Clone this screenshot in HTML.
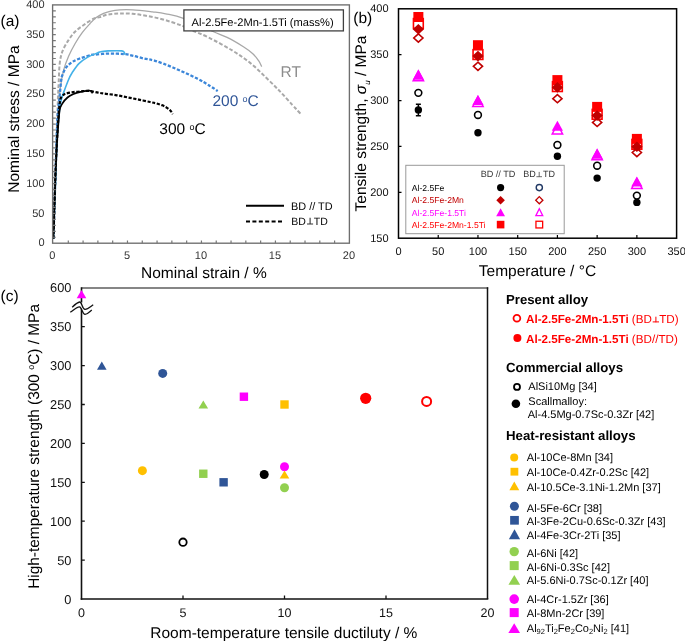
<!DOCTYPE html><html><head><meta charset="utf-8"><style>html,body{margin:0;padding:0;background:#fff;overflow:hidden}svg{display:block;will-change:transform}text{font-family:"Liberation Sans", sans-serif;text-rendering:geometricPrecision}</style></head><body>
<svg width="685" height="641" viewBox="0 0 685 641">
<rect width="685" height="641" fill="#fff"/>
<g fill="none" stroke-linecap="butt">
<path d="M53.4,238.6 C53.6,233.8 54.0,220.6 54.4,210.0 C54.8,199.4 55.2,186.7 55.6,175.0 C56.0,163.3 56.4,150.5 56.8,140.0 C57.2,129.5 57.6,120.7 58.2,112.0 C58.8,103.3 59.4,95.0 60.3,88.0 C61.2,81.0 62.3,75.2 63.7,69.9 C65.1,64.6 66.8,60.5 68.7,56.1 C70.6,51.7 72.7,47.7 75.0,43.7 C77.3,39.8 79.9,35.7 82.4,32.4 C84.9,29.1 87.6,26.2 89.9,23.7 C92.2,21.2 93.9,19.2 96.2,17.5 C98.5,15.8 101.3,14.3 103.6,13.3 C105.9,12.3 107.3,11.9 110.0,11.3 C112.7,10.7 115.9,10.1 119.7,9.9 C123.5,9.7 127.4,9.6 132.9,9.9 C138.4,10.2 147.1,11.2 152.6,11.8 C158.1,12.5 160.6,12.7 165.7,13.8 C170.8,14.9 175.5,15.4 183.4,18.4 C191.3,21.3 205.7,28.3 213.0,31.5 C220.3,34.7 222.0,34.9 227.1,37.4 C232.2,39.9 239.1,44.0 243.4,46.7 C247.7,49.4 250.3,51.4 252.8,53.7 C255.3,56.0 257.1,58.6 258.6,60.7 C260.1,62.9 261.2,65.6 261.7,66.6" stroke="#a8a8a8" stroke-width="1.3"/>
<path d="M53.4,238.6 C53.6,233.0 54.2,216.4 54.6,205.0 C55.0,193.6 55.4,182.5 55.8,170.0 C56.2,157.5 56.6,141.7 57.0,130.0 C57.4,118.3 57.6,108.0 57.9,100.0 C58.2,92.0 58.4,88.4 58.7,82.3 C59.0,76.2 59.1,68.8 59.7,63.6 C60.3,58.4 61.0,55.2 62.5,51.2 C64.0,47.2 66.6,43.1 68.7,39.9 C70.8,36.7 72.5,34.3 75.0,31.8 C77.5,29.3 80.6,27.2 83.7,25.0 C86.8,22.8 91.0,20.0 93.7,18.7 C96.4,17.4 97.6,17.8 100.0,17.1 C102.4,16.4 104.6,15.1 107.9,14.5 C111.2,13.9 115.5,13.6 119.7,13.5 C123.9,13.4 128.5,13.4 132.9,13.8 C137.3,14.2 141.6,15.0 146.0,15.8 C150.4,16.6 154.7,17.3 159.1,18.4 C163.5,19.5 168.2,21.0 172.3,22.3 C176.4,23.6 180.1,25.0 183.4,26.3 C186.7,27.6 187.8,28.5 192.0,30.4 C196.2,32.2 201.8,34.1 208.4,37.4 C215.0,40.7 224.8,45.9 231.8,50.2 C238.8,54.5 244.6,58.4 250.4,63.1 C256.2,67.8 261.7,73.4 266.8,78.3 C271.9,83.2 276.5,87.8 280.8,92.3 C285.1,96.8 289.6,102.0 292.5,105.1 C295.4,108.2 296.5,109.3 298.0,111.0 C299.5,112.7 301.0,114.3 301.6,115.0" stroke="#a9a9a9" stroke-width="2" stroke-dasharray="3.8,2"/>
<path d="M53.4,238.6 C53.6,233.0 54.1,216.4 54.5,205.0 C54.9,193.6 55.2,181.7 55.6,170.0 C56.0,158.3 56.4,143.8 56.7,135.0 C57.0,126.2 57.2,122.4 57.5,117.4 C57.8,112.4 58.3,109.2 58.7,105.0 C59.1,100.8 59.6,96.7 60.0,92.5 C60.4,88.3 60.8,83.0 61.2,80.0 C61.6,77.0 61.7,76.9 62.5,74.8 C63.3,72.7 64.5,69.6 66.2,67.4 C67.9,65.2 70.0,63.4 72.5,61.8 C75.0,60.2 78.1,59.1 81.2,58.0 C84.3,56.9 88.9,55.5 91.2,54.9 C93.5,54.3 92.5,54.8 95.0,54.6 C97.5,54.4 102.2,53.9 105.9,53.7 C109.6,53.6 113.6,53.6 116.9,53.7 C120.2,53.8 122.9,53.9 125.6,54.2 C128.3,54.6 130.2,55.1 133.3,55.8 C136.4,56.5 140.6,57.8 144.2,58.6 C147.8,59.4 150.1,59.3 155.0,60.8 C159.9,62.3 166.5,64.8 173.4,67.7 C180.3,70.6 190.5,75.2 196.7,78.3 C202.9,81.4 207.2,84.3 210.7,86.4 C214.2,88.5 216.5,90.3 217.7,91.1" stroke="#3b86d9" stroke-width="2.3" stroke-dasharray="3.2,1.7"/>
<path d="M53.4,238.6 C53.6,233.0 54.2,216.4 54.6,205.0 C55.0,193.6 55.5,181.7 55.9,170.0 C56.3,158.3 56.8,143.7 57.3,135.0 C57.8,126.3 58.2,122.8 58.7,118.0 C59.2,113.2 59.5,109.4 60.0,106.3 C60.5,103.2 60.7,101.8 61.4,99.3 C62.1,96.8 62.8,94.6 64.0,91.4 C65.2,88.2 67.1,83.1 68.4,80.0 C69.7,76.9 70.2,75.7 72.0,73.0 C73.8,70.3 76.3,66.2 78.9,63.6 C81.5,61.0 84.3,59.2 87.4,57.4 C90.5,55.6 95.2,53.9 97.4,53.0 C99.6,52.1 98.7,52.1 100.5,51.8 C102.3,51.4 105.4,51.1 108.1,50.9 C110.8,50.7 114.6,50.7 116.9,50.7 C119.2,50.7 120.6,50.7 121.8,50.9 C123.0,51.1 123.5,51.4 124.0,52.0 C124.5,52.6 124.8,54.3 125.0,54.8" stroke="#43b1e8" stroke-width="1.6"/>
<path d="M53.4,238.6 C53.6,233.0 54.1,215.6 54.4,205.0 C54.7,194.4 55.1,182.5 55.4,175.0 C55.7,167.5 55.7,165.8 56.0,160.0 C56.3,154.2 56.6,146.7 57.0,140.0 C57.4,133.3 57.8,125.5 58.2,120.0 C58.6,114.5 58.9,110.5 59.3,107.0 C59.7,103.5 60.0,100.9 60.5,99.0 C61.0,97.1 61.8,96.6 62.5,95.8 C63.2,95.0 63.3,94.6 64.9,94.0 C66.5,93.4 69.3,92.7 71.9,92.3 C74.5,91.9 77.8,91.6 80.6,91.4 C83.4,91.2 85.6,90.7 88.5,90.9 C91.4,91.1 95.3,92.2 98.2,92.7 C101.1,93.2 102.8,93.4 105.9,93.8 C109.0,94.2 113.2,94.7 116.9,95.3 C120.6,95.9 124.2,96.7 127.8,97.4 C131.4,98.1 135.0,98.8 138.7,99.6 C142.4,100.4 147.2,101.4 150.0,102.0 C152.8,102.6 153.9,102.8 155.8,103.3 C157.8,103.8 159.9,104.4 161.7,105.1 C163.4,105.8 164.9,106.5 166.3,107.4 C167.7,108.3 169.2,109.4 170.3,110.5 C171.4,111.6 172.4,113.6 172.8,114.2" stroke="#000" stroke-width="2.2" stroke-dasharray="3.2,1.6"/>
<path d="M53.4,238.6 C53.6,233.0 54.1,215.6 54.5,205.0 C54.9,194.4 55.1,184.2 55.5,175.0 C55.9,165.8 56.2,157.5 56.6,150.0 C57.0,142.5 57.4,136.6 57.9,130.0 C58.4,123.4 58.9,115.0 59.6,110.6 C60.3,106.2 61.0,105.8 62.3,103.6 C63.6,101.4 65.6,99.1 67.5,97.5 C69.4,95.9 71.4,95.0 73.6,94.0 C75.8,93.0 78.1,92.4 80.6,91.8 C83.1,91.2 86.7,90.7 88.5,90.6 C90.3,90.5 90.5,90.5 91.2,91.0 C91.9,91.5 92.3,92.9 92.5,93.3" stroke="#000" stroke-width="1.7"/>
</g>
<rect x="52.6" y="4.9" width="296.8" height="238.3" fill="none" stroke="#6e6e6e" stroke-width="1.35"/>
<path d="M52.6,237.24h3.2M52.6,231.28h3.2M52.6,225.33h3.2M52.6,219.37h3.2M52.6,213.41h3.2M52.6,207.45h3.2M52.6,201.50h3.2M52.6,195.54h3.2M52.6,189.58h3.2M52.6,183.62h3.2M52.6,177.67h3.2M52.6,171.71h3.2M52.6,165.75h3.2M52.6,159.79h3.2M52.6,153.84h3.2M52.6,147.88h3.2M52.6,141.92h3.2M52.6,135.96h3.2M52.6,130.01h3.2M52.6,124.05h3.2M52.6,118.09h3.2M52.6,112.14h3.2M52.6,106.18h3.2M52.6,100.22h3.2M52.6,94.26h3.2M52.6,88.31h3.2M52.6,82.35h3.2M52.6,76.39h3.2M52.6,70.43h3.2M52.6,64.47h3.2M52.6,58.52h3.2M52.6,52.56h3.2M52.6,46.60h3.2M52.6,40.64h3.2M52.6,34.69h3.2M52.6,28.73h3.2M52.6,22.77h3.2M52.6,16.81h3.2M52.6,10.86h3.2M68.30,243.2v-2.8M83.09,243.2v-2.8M97.88,243.2v-2.8M112.68,243.2v-2.8M127.47,243.2v-2.8M142.27,243.2v-2.8M157.06,243.2v-2.8M171.86,243.2v-2.8M186.66,243.2v-2.8M201.45,243.2v-2.8M216.24,243.2v-2.8M231.04,243.2v-2.8M245.83,243.2v-2.8M260.63,243.2v-2.8M275.43,243.2v-2.8M290.22,243.2v-2.8M305.01,243.2v-2.8M319.81,243.2v-2.8M334.60,243.2v-2.8" stroke="#777" stroke-width="1.2" fill="none"/>
<text x="44.5" y="246.3" font-size="11" fill="#333" text-anchor="end">0</text>
<text x="44.5" y="216.5" font-size="11" fill="#333" text-anchor="end">50</text>
<text x="44.5" y="186.7" font-size="11" fill="#333" text-anchor="end">100</text>
<text x="44.5" y="156.9" font-size="11" fill="#333" text-anchor="end">150</text>
<text x="44.5" y="127.1" font-size="11" fill="#333" text-anchor="end">200</text>
<text x="44.5" y="97.4" font-size="11" fill="#333" text-anchor="end">250</text>
<text x="44.5" y="67.6" font-size="11" fill="#333" text-anchor="end">300</text>
<text x="44.5" y="37.8" font-size="11" fill="#333" text-anchor="end">350</text>
<text x="44.5" y="8.0" font-size="11" fill="#333" text-anchor="end">400</text>
<text x="52.4" y="258.6" font-size="11" fill="#333" text-anchor="middle">0</text>
<text x="127.0" y="258.6" font-size="11" fill="#333" text-anchor="middle">5</text>
<text x="200.9" y="258.6" font-size="11" fill="#333" text-anchor="middle">10</text>
<text x="274.9" y="258.6" font-size="11" fill="#333" text-anchor="middle">15</text>
<text x="348.9" y="258.6" font-size="11" fill="#333" text-anchor="middle">20</text>
<text x="141" y="277.8" font-size="15.5" fill="#000">Nominal strain / %</text>
<text transform="translate(18.75,192.7) rotate(-90)" font-size="15.5" fill="#000">Nominal stress / MPa</text>
<text x="0.5" y="25.8" font-size="15.5" fill="#000">(a)</text>
<rect x="183.9" y="9.9" width="159.5" height="21" fill="#fff" stroke="#404040" stroke-width="1.3"/>
<text x="191.6" y="25.5" font-size="11.1" fill="#000">Al-2.5Fe-2Mn-1.5Ti (mass%)</text>
<text x="280.5" y="77" font-size="15.5" fill="#8c8c8c">RT</text>
<text x="212.4" y="106.1" font-size="15.5" fill="#2f5597">200 <tspan font-size="9" dy="-4.5">o</tspan><tspan dy="4.5">C</tspan></text>
<text x="159.3" y="134.2" font-size="15.5" fill="#000">300 <tspan font-size="9" dy="-4.5">o</tspan><tspan dy="4.5">C</tspan></text>
<path d="M246,205.8H284" stroke="#000" stroke-width="2"/>
<path d="M246,221.5H284" stroke="#000" stroke-width="2" stroke-dasharray="4,2.4"/>
<text x="291" y="209.9" font-size="10.9" fill="#000">BD // TD</text>
<text x="291.2" y="224.6" font-size="10.5" fill="#000">BD<tspan dx="8.0">TD</tspan></text>
<path d="M310.1,217.8V224.3M307,224H313.1" stroke="#333" stroke-width="1.1" fill="none"/>
<rect x="398.5" y="8.8" width="278.1" height="229.4" fill="none" stroke="#000" stroke-width="1.5"/>
<path d="M398.5,192.32h3M398.5,146.44h3M398.5,100.56h3M398.5,54.68h3M438.23,238.2v-3.2M477.96,238.2v-3.2M517.69,238.2v-3.2M557.41,238.2v-3.2M597.14,238.2v-3.2M636.87,238.2v-3.2" stroke="#000" stroke-width="1.2" fill="none"/>
<text x="388.6" y="241.5" font-size="11" fill="#111" text-anchor="end">150</text>
<text x="388.6" y="195.6" font-size="11" fill="#111" text-anchor="end">200</text>
<text x="388.6" y="149.7" font-size="11" fill="#111" text-anchor="end">250</text>
<text x="388.6" y="103.9" font-size="11" fill="#111" text-anchor="end">300</text>
<text x="388.6" y="58.0" font-size="11" fill="#111" text-anchor="end">350</text>
<text x="388.6" y="12.1" font-size="11" fill="#111" text-anchor="end">400</text>
<text x="398.5" y="255.2" font-size="11" fill="#111" text-anchor="middle">0</text>
<text x="438.2" y="255.2" font-size="11" fill="#111" text-anchor="middle">50</text>
<text x="478.0" y="255.2" font-size="11" fill="#111" text-anchor="middle">100</text>
<text x="517.7" y="255.2" font-size="11" fill="#111" text-anchor="middle">150</text>
<text x="557.4" y="255.2" font-size="11" fill="#111" text-anchor="middle">200</text>
<text x="597.1" y="255.2" font-size="11" fill="#111" text-anchor="middle">250</text>
<text x="636.9" y="255.2" font-size="11" fill="#111" text-anchor="middle">300</text>
<text x="676.6" y="255.2" font-size="11" fill="#111" text-anchor="middle">350</text>
<text x="478.8" y="276.1" font-size="15.5" fill="#000">Temperature / °C</text>
<text transform="translate(366,35.6) rotate(-90)" font-size="15.5" fill="#000" text-anchor="end">Tensile strength, <tspan font-style="italic">σ</tspan><tspan font-size="8" font-style="italic" dy="3.6">u</tspan><tspan dy="-3.6"> / MPa</tspan></text>
<text x="353.3" y="23.4" font-size="15.5" fill="#000">(b)</text>
<path d="M418.36,104.14V115.70M415.86,104.14h5M415.86,115.70h5" stroke="#000" stroke-width="1.5"/>
<circle cx="418.36" cy="109.92" r="3.70" fill="#000"/>
<circle cx="418.36" cy="92.85" r="3.40" fill="#fff" stroke="#000" stroke-width="1.6"/>
<path d="M418.36,70.95L423.56,80.85L413.16,80.85Z" fill="#fff" stroke="#ff00ff" stroke-width="1.5"/>
<path d="M418.36,69.75L423.96,79.75L412.76,79.75Z" fill="#ff00ff"/>
<rect x="413.46" y="18.60" width="9.80" height="9.80" fill="#fff" stroke="#ff0000" stroke-width="1.6"/>
<rect x="413.36" y="12.00" width="10.00" height="10.00" fill="#ff0000"/>
<path d="M418.36,33.92L422.94,38.00L418.36,42.08L413.78,38.00Z" fill="#fff" stroke="#c00000" stroke-width="1.6"/>
<path d="M418.36,24.00L424.06,29.30L418.36,34.60L412.66,29.30Z" fill="#c00000"/>
<circle cx="477.96" cy="132.77" r="3.70" fill="#000"/>
<circle cx="477.96" cy="114.97" r="3.40" fill="#fff" stroke="#000" stroke-width="1.6"/>
<path d="M477.96,96.55L483.16,106.45L472.76,106.45Z" fill="#fff" stroke="#ff00ff" stroke-width="1.5"/>
<path d="M477.96,95.00L483.56,105.00L472.36,105.00Z" fill="#ff00ff"/>
<rect x="473.06" y="49.65" width="9.80" height="9.80" fill="#fff" stroke="#ff0000" stroke-width="1.6"/>
<rect x="472.96" y="40.20" width="10.00" height="10.00" fill="#ff0000"/>
<path d="M477.96,62.22L482.54,66.30L477.96,70.38L473.38,66.30Z" fill="#fff" stroke="#c00000" stroke-width="1.6"/>
<path d="M477.96,50.80L483.66,56.10L477.96,61.40L472.26,56.10Z" fill="#c00000"/>
<circle cx="557.41" cy="156.26" r="3.70" fill="#000"/>
<circle cx="557.41" cy="144.97" r="3.40" fill="#fff" stroke="#000" stroke-width="1.6"/>
<path d="M557.41,124.05L562.61,133.95L552.21,133.95Z" fill="#fff" stroke="#ff00ff" stroke-width="1.5"/>
<path d="M557.41,120.80L563.01,130.80L551.81,130.80Z" fill="#ff00ff"/>
<rect x="552.51" y="81.70" width="9.80" height="9.80" fill="#fff" stroke="#ff0000" stroke-width="1.6"/>
<rect x="552.41" y="75.10" width="10.00" height="10.00" fill="#ff0000"/>
<path d="M557.41,94.57L561.99,98.65L557.41,102.73L552.83,98.65Z" fill="#fff" stroke="#c00000" stroke-width="1.6"/>
<path d="M557.41,82.10L563.11,87.40L557.41,92.70L551.71,87.40Z" fill="#c00000"/>
<circle cx="597.14" cy="178.10" r="3.70" fill="#000"/>
<circle cx="597.14" cy="165.71" r="3.40" fill="#fff" stroke="#000" stroke-width="1.6"/>
<path d="M597.14,149.85L602.34,159.75L591.94,159.75Z" fill="#fff" stroke="#ff00ff" stroke-width="1.5"/>
<path d="M597.14,148.75L602.74,158.75L591.54,158.75Z" fill="#ff00ff"/>
<rect x="592.24" y="109.40" width="9.80" height="9.80" fill="#fff" stroke="#ff0000" stroke-width="1.6"/>
<rect x="592.14" y="101.90" width="10.00" height="10.00" fill="#ff0000"/>
<path d="M597.14,118.32L601.72,122.40L597.14,126.48L592.56,122.40Z" fill="#fff" stroke="#c00000" stroke-width="1.6"/>
<path d="M597.14,110.30L602.84,115.60L597.14,120.90L591.44,115.60Z" fill="#c00000"/>
<circle cx="636.87" cy="202.41" r="3.70" fill="#000"/>
<circle cx="636.87" cy="195.62" r="3.40" fill="#fff" stroke="#000" stroke-width="1.6"/>
<path d="M636.87,178.60L642.07,188.50L631.67,188.50Z" fill="#fff" stroke="#ff00ff" stroke-width="1.5"/>
<path d="M636.87,176.40L642.47,186.40L631.27,186.40Z" fill="#ff00ff"/>
<rect x="631.97" y="139.45" width="9.80" height="9.80" fill="#fff" stroke="#ff0000" stroke-width="1.6"/>
<rect x="631.87" y="133.90" width="10.00" height="10.00" fill="#ff0000"/>
<path d="M636.87,148.42L641.45,152.50L636.87,156.58L632.29,152.50Z" fill="#fff" stroke="#c00000" stroke-width="1.6"/>
<path d="M636.87,141.45L642.57,146.75L636.87,152.05L631.17,146.75Z" fill="#c00000"/>
<rect x="405.8" y="165.3" width="158.4" height="68.4" fill="#fff" stroke="#999" stroke-width="1"/>
<text x="480.7" y="176.9" font-size="9.1" fill="#333">BD // TD</text>
<text x="523.2" y="177.4" font-size="9" fill="#333">BD<tspan dx="7.2">TD</tspan></text>
<path d="M539.2,171.9V177M536.4,176.7H542" stroke="#555" stroke-width="0.85" fill="none"/>
<text x="411.8" y="190.7" font-size="8.6" fill="#000">Al-2.5Fe</text>
<text x="411.8" y="203.3" font-size="8.6" fill="#c00000">Al-2.5Fe-2Mn</text>
<text x="411.8" y="215.6" font-size="8.6" fill="#ff00ff">Al-2.5Fe-1.5Ti</text>
<text x="411.8" y="227.7" font-size="8.6" fill="#ff0000">Al-2.5Fe-2Mn-1.5Ti</text>
<circle cx="500.60" cy="187.60" r="3.60" fill="#000"/>
<circle cx="539.30" cy="187.60" r="3.10" fill="#fff" stroke="#203864" stroke-width="1.4"/>
<path d="M500.60,195.90L504.90,200.20L500.60,204.50L496.30,200.20Z" fill="#c00000"/>
<path d="M539.30,196.61L542.89,200.20L539.30,203.79L535.71,200.20Z" fill="#fff" stroke="#c00000" stroke-width="1.3"/>
<path d="M500.60,208.30L505.00,216.30L496.20,216.30Z" fill="#ff00ff"/>
<path d="M539.30,208.71L542.73,215.59L535.87,215.59Z" fill="#fff" stroke="#ff00ff" stroke-width="1.3" stroke-linejoin="miter"/>
<rect x="496.80" y="220.80" width="7.60" height="7.60" fill="#ff0000"/>
<rect x="535.95" y="221.25" width="6.70" height="6.70" fill="#fff" stroke="#ff0000" stroke-width="1.3"/>
<path d="M81.5,288.0H488.2" fill="none" stroke="#5e5e5e" stroke-width="1.5"/>
<path d="M487.5,287.3V599.0" fill="none" stroke="#111" stroke-width="1.5"/>
<path d="M80.7,599.0H488.3" fill="none" stroke="#111" stroke-width="1.6"/>
<path d="M81.5,287.2V302.5M81.5,307.5V599.8" fill="none" stroke="#111" stroke-width="1.6"/>
<path d="M70.3,312.3 C74,310 77,306.5 79.5,306.8 C82,307.2 82.5,314.5 85,314.4 C87.5,314.2 89.5,311.6 91.8,310 L93.2,304.8 C90.5,306.5 88,309.5 85,309.4 C82,309.2 82,301.8 79.7,302 C77.5,302.2 74.5,305 72.2,307.2 Z" fill="#fff" stroke="none"/>
<path d="M72.2,307.2 C74.5,305 77.5,302.2 79.7,302 C82,301.8 82,309.2 85,309.4 C88,309.5 90.5,306.5 93.2,304.8" fill="none" stroke="#111" stroke-width="1.3"/>
<path d="M70.3,312.3 C74,310 77,306.5 79.5,306.8 C82,307.2 82.5,314.5 85,314.4 C87.5,314.2 89.5,311.6 91.8,310" fill="none" stroke="#111" stroke-width="1.3"/>
<path d="M81.5,560.10h3.3M81.5,521.20h3.3M81.5,482.30h3.3M81.5,443.40h3.3M81.5,404.50h3.3M81.5,365.60h3.3M81.5,326.70h3.3M183.00,599.0v-3.5M284.50,599.0v-3.5M386.00,599.0v-3.5" stroke="#111" stroke-width="1.3" fill="none"/>
<text x="71.4" y="603.5" font-size="12.8" fill="#111" text-anchor="end">0</text>
<text x="71.4" y="564.6" font-size="12.8" fill="#111" text-anchor="end">50</text>
<text x="71.4" y="525.8" font-size="12.8" fill="#111" text-anchor="end">100</text>
<text x="71.4" y="486.9" font-size="12.8" fill="#111" text-anchor="end">150</text>
<text x="71.4" y="447.9" font-size="12.8" fill="#111" text-anchor="end">200</text>
<text x="71.4" y="409.1" font-size="12.8" fill="#111" text-anchor="end">250</text>
<text x="71.4" y="370.2" font-size="12.8" fill="#111" text-anchor="end">300</text>
<text x="71.4" y="331.2" font-size="12.8" fill="#111" text-anchor="end">350</text>
<text x="71.4" y="291.8" font-size="12.8" fill="#111" text-anchor="end">600</text>
<text x="81.5" y="617.3" font-size="12.5" fill="#111" text-anchor="middle">0</text>
<text x="183.0" y="617.3" font-size="12.5" fill="#111" text-anchor="middle">5</text>
<text x="284.5" y="617.3" font-size="12.5" fill="#111" text-anchor="middle">10</text>
<text x="386.0" y="617.3" font-size="12.5" fill="#111" text-anchor="middle">15</text>
<text x="487.5" y="617.3" font-size="12.5" fill="#111" text-anchor="middle">20</text>
<text x="150.3" y="638.3" font-size="15.5" fill="#000">Room-temperature tensile ductiluty / %</text>
<text transform="translate(38.6,588.8) rotate(-90)" font-size="15.4" fill="#000">High-temperature strength (300 <tspan font-size="9" dy="-4.6">o</tspan><tspan dy="4.6">C) / MPa</tspan></text>
<text x="0.5" y="301" font-size="15.5" fill="#000">(c)</text>
<path d="M81.50,290.10L86.30,298.30L76.70,298.30Z" fill="#ff00ff"/>
<path d="M101.80,361.50L106.60,369.70L97.00,369.70Z" fill="#2f5597"/>
<circle cx="162.70" cy="373.38" r="4.50" fill="#2f5597"/>
<path d="M203.30,400.40L208.10,408.60L198.50,408.60Z" fill="#92d050"/>
<rect x="239.70" y="392.52" width="8.40" height="8.40" fill="#ff00ff"/>
<rect x="280.30" y="400.30" width="8.40" height="8.40" fill="#ffc000"/>
<circle cx="142.40" cy="470.63" r="4.50" fill="#ffc000"/>
<rect x="199.10" y="469.54" width="8.40" height="8.40" fill="#92d050"/>
<rect x="219.40" y="478.10" width="8.40" height="8.40" fill="#2f5597"/>
<circle cx="264.20" cy="474.52" r="4.50" fill="#000"/>
<circle cx="284.50" cy="466.74" r="4.50" fill="#ff00ff"/>
<path d="M284.50,470.42L289.30,478.62L279.70,478.62Z" fill="#ffc000"/>
<circle cx="284.50" cy="487.75" r="4.50" fill="#92d050"/>
<circle cx="183.00" cy="542.21" r="3.70" fill="#fff" stroke="#000" stroke-width="1.8"/>
<circle cx="365.70" cy="398.28" r="5.60" fill="#ff0000"/>
<circle cx="426.60" cy="401.39" r="4.50" fill="#fff" stroke="#ff0000" stroke-width="2.0"/>
<text x="506" y="304.4" font-size="13.2" font-weight="bold" fill="#000">Present alloy</text>
<circle cx="516.90" cy="318.20" r="3.40" fill="#fff" stroke="#ff0000" stroke-width="1.8"/>
<text x="526" y="322.6" font-size="11.65" fill="#ff0000"><tspan font-weight="bold">Al-2.5Fe-2Mn-1.5Ti</tspan> (BD<tspan dx="7.3">TD)</tspan></text>
<path d="M655.9,316.7V322.3M652.7,321.9H659" stroke="#ff0000" stroke-width="1" fill="none"/>
<circle cx="517.40" cy="338.00" r="4.00" fill="#ff0000"/>
<text x="526" y="342.5" font-size="11.65" fill="#ff0000"><tspan font-weight="bold">Al-2.5Fe-2Mn-1.5Ti</tspan> (BD//TD)</text>
<text x="506" y="372.4" font-size="13.25" font-weight="bold" fill="#000">Commercial alloys</text>
<circle cx="517.00" cy="386.90" r="3.00" fill="#fff" stroke="#000" stroke-width="1.8"/>
<text x="528.3" y="390.2" font-size="11" fill="#000">AlSi10Mg [34]</text>
<circle cx="515.90" cy="403.70" r="4.30" fill="#000"/>
<text x="528.3" y="405.2" font-size="11" fill="#000">Scallmalloy:</text>
<text x="527.7" y="418.3" font-size="11" fill="#000">Al-4.5Mg-0.7Sc-0.3Zr [42]</text>
<text x="506" y="439.7" font-size="13.25" font-weight="bold" fill="#000">Heat-resistant alloys</text>
<circle cx="514.20" cy="457.40" r="4.00" fill="#ffc000"/>
<text x="526.8" y="461.1" font-size="11" fill="#000">Al-10Ce-8Mn [34]</text>
<rect x="510.50" y="467.80" width="7.80" height="7.80" fill="#ffc000"/>
<text x="526.8" y="475.7" font-size="11" fill="#000">Al-10Ce-0.4Zr-0.2Sc [42]</text>
<path d="M514.30,481.60L519.25,490.20L509.35,490.20Z" fill="#ffc000"/>
<text x="526.8" y="490.9" font-size="11" fill="#000">Al-10.5Ce-3.1Ni-1.2Mn [37]</text>
<circle cx="514.40" cy="506.20" r="4.50" fill="#2f5597"/>
<text x="526.8" y="511.8" font-size="11" fill="#000">Al-5Fe-6Cr [38]</text>
<rect x="510.15" y="515.95" width="8.70" height="8.70" fill="#2f5597"/>
<text x="526.8" y="525.3" font-size="11" fill="#000">Al-3Fe-2Cu-0.6Sc-0.3Zr [43]</text>
<path d="M514.50,529.25L520.10,539.35L508.90,539.35Z" fill="#2f5597"/>
<text x="526.8" y="539.1" font-size="11" fill="#000">Al-4Fe-3Cr-2Ti [35]</text>
<circle cx="514.20" cy="551.60" r="4.70" fill="#92d050"/>
<text x="526.8" y="557.4" font-size="11" fill="#000">Al-6Ni [42]</text>
<rect x="509.70" y="561.10" width="9.00" height="9.00" fill="#92d050"/>
<text x="526.8" y="570.5" font-size="11" fill="#000">Al-6Ni-0.3Sc [42]</text>
<path d="M514.30,575.05L520.15,584.75L508.45,584.75Z" fill="#92d050"/>
<text x="526.8" y="584.3" font-size="11" fill="#000">Al-5.6Ni-0.7Sc-0.1Zr [40]</text>
<circle cx="514.20" cy="599.10" r="4.80" fill="#ff00ff"/>
<text x="526.8" y="603.0" font-size="11" fill="#000">Al-4Cr-1.5Zr [36]</text>
<rect x="509.70" y="608.10" width="9.00" height="9.00" fill="#ff00ff"/>
<text x="526.8" y="617.3" font-size="11" fill="#000">Al-8Mn-2Cr [39]</text>
<path d="M514.20,623.35L520.05,633.05L508.35,633.05Z" fill="#ff00ff"/>
<text x="526.8" y="632.2" font-size="11" fill="#000">Al<tspan font-size="7.5" dy="2">92</tspan><tspan dy="-2">Ti</tspan><tspan font-size="7.5" dy="2">2</tspan><tspan dy="-2">Fe</tspan><tspan font-size="7.5" dy="2">2</tspan><tspan dy="-2">Co</tspan><tspan font-size="7.5" dy="2">2</tspan><tspan dy="-2">Ni</tspan><tspan font-size="7.5" dy="2">2</tspan><tspan dy="-2"> [41]</tspan></text>
</svg></body></html>
